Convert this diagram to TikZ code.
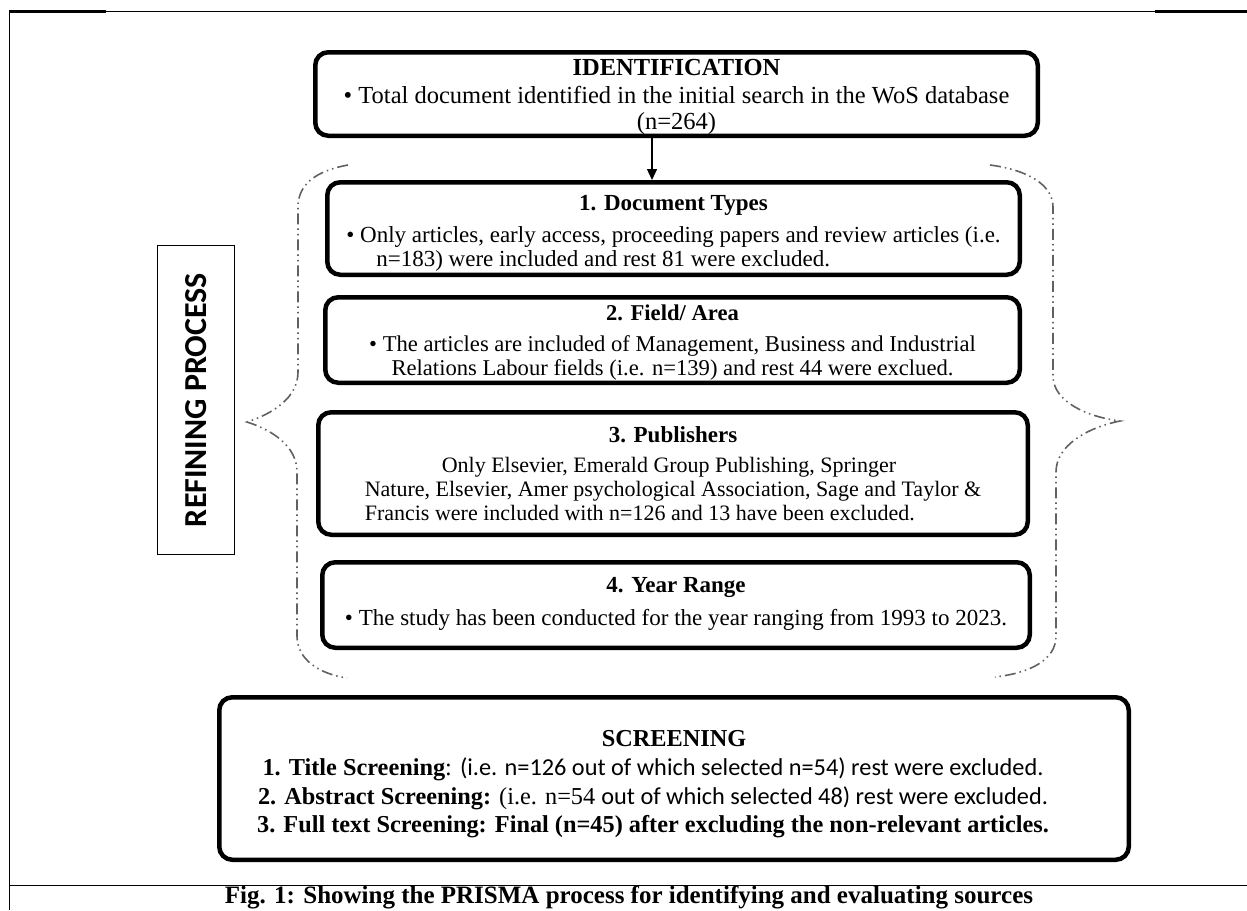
\documentclass[tikz,border=0pt]{standalone}
\usepackage{fontspec}
\setmainfont{Liberation Serif}
\newfontfamily\calfont{Carlito}
\usetikzlibrary{arrows.meta,calc}
\tikzset{
  stagebox/.style={draw=black, line width=4.5pt, rounded corners=13pt, inner sep=0pt},
  boxtext/.style={align=center, inner sep=0pt, font=\fontsize{23}{24}\selectfont},
  braceline/.style={draw=black!62, line width=1.6pt,
    dash pattern=on 11pt off 4pt on 1.5pt off 4pt on 1.5pt off 4pt},
  frameline/.style={draw=black, line width=1pt},
  frametick/.style={draw=black, line width=2.4pt},
  flowarrow/.style={draw=black, line width=1.5pt, -{Triangle[length=11pt,width=10pt]}},
  sidebox/.style={draw=black, line width=1.3pt, rotate=90, inner sep=0pt,
    font=\calfont\bfseries\fontsize{32}{32}\selectfont},
  captext/.style={font=\bfseries\fontsize{25}{25}\selectfont, anchor=base, inner sep=0pt}
}
\begin{document}
\begin{tikzpicture}[x=1pt,y=-1pt]
\useasboundingbox (0,0) rectangle (1247,910);
\clip (0,0) rectangle (1247,910);
% frame
\draw[frameline] (9,910) -- (9,11) -- (1247,11);
\draw[frametick] (9,11.6) -- (106,11.6);
\draw[frametick] (1155,11.6) -- (1247,11.6);
\draw[frameline] (9,885) -- (1247,885);

% identification
\node[stagebox, minimum width=722.5pt, minimum height=83.5pt] (id) at (676.5,94) {};
\node[boxtext, font=\fontsize{24.5}{25.5}\selectfont] (idt) at ([yshift=-2.5pt]id.center)
  {\textbf{IDENTIFICATION}\\[3pt]
   • Total document identified in the initial search in the WoS database\\
   (n=264)};

% refining boxes
\node[stagebox, minimum width=692.5pt, minimum height=92.5pt] (b1) at (673.5,228.5) {};
\node[boxtext] (b1t) at ([yshift=-5pt]b1.center)
  {\begin{tabular}{@{}l@{}}
   \multicolumn{1}{@{}c@{}}{\textbf{1. Document Types}}\\[8pt]
   • Only articles, early access, proceeding papers and review articles (i.e.\\
   \hspace*{30pt}n=183) were included and rest 81 were excluded.
   \end{tabular}};

\node[stagebox, minimum width=694.5pt, minimum height=85.5pt] (b2) at (672.5,340) {};
\node[boxtext, font=\fontsize{22.6}{23.5}\selectfont] (b2t) at ([yshift=-2.5pt]b2.center)
  {\textbf{2. Field/ Area}\\[8pt]
   • The articles are included of Management, Business and Industrial\\
   Relations Labour fields (i.e. n=139) and rest 44 were exclued.};

\node[stagebox, minimum width=709.5pt, minimum height=122.5pt] (b3) at (673,473.5) {};
\node[boxtext, font=\fontsize{22}{24}\selectfont] (b3t) at ([yshift=-3pt]b3.center)
  {\begin{tabular}{@{}l@{}}
   \multicolumn{1}{@{}c@{}}{\fontsize{23}{24}\selectfont\textbf{3. Publishers}}\\[6pt]
   \hspace*{77pt}Only Elsevier, Emerald Group Publishing, Springer\\
   Nature, Elsevier, Amer psychological Association, Sage and Taylor \&\\
   Francis were included with n=126 and 13 have been excluded.
   \end{tabular}};

\node[stagebox, minimum width=707.5pt, minimum height=85.5pt] (b4) at (676,605) {};
\node[boxtext] (b4t) at ([yshift=1pt]b4.center)
  {\textbf{4. Year Range}\\[9pt]
   • The study has been conducted for the year ranging from 1993 to 2023.};

% screening
\node[stagebox, minimum width=909.5pt, minimum height=162.5pt] (scr) at (674,778.5) {};
\node[boxtext, font=\fontsize{24.3}{28}\selectfont] (scrt) at ([xshift=-21pt,yshift=-6pt]scr.center)
  {\hspace*{42pt}\textbf{SCREENING}\\[1pt]
   \textbf{1. Title Screening}: {\calfont (i.e. n=126 out of which selected n=54) rest were excluded.}\\[1pt]
   \textbf{2. Abstract Screening:} (i.e. n=54 {\calfont out of which selected 48) rest were excluded.}\\
   \textbf{3. Full text Screening: Final (n=45) after excluding the non-relevant articles.}};

% side label
\node[sidebox, minimum width=309pt, minimum height=77pt] (ref) at (196,400) {REFINING PROCESS};

% arrow
\coordinate (ax) at (652,0);
\draw[flowarrow] (id.south -| ax) -- (b1.north -| ax);

% braces
\draw[braceline] (348,165) .. controls (315,171) and (298,185) .. (298,207)
  -- (298,372) .. controls (298,398) and (272,414) .. (247,422)
  .. controls (272,430) and (297,446) .. (297,472)
  -- (297,636) .. controls (297,660) and (320,674) .. (347,678);
\draw[braceline] (990,165) .. controls (1028,170) and (1053,185) .. (1053,207)
  -- (1053,376) .. controls (1053,402) and (1088,417) .. (1120,421)
  .. controls (1086,428) and (1056,446) .. (1056,472)
  -- (1056,636) .. controls (1056,660) and (1030,673) .. (995,677);

% caption
\node[captext] (cap) at (629,903.5) {Fig. 1: Showing the PRISMA process for identifying and evaluating sources};
\end{tikzpicture}
\end{document}
